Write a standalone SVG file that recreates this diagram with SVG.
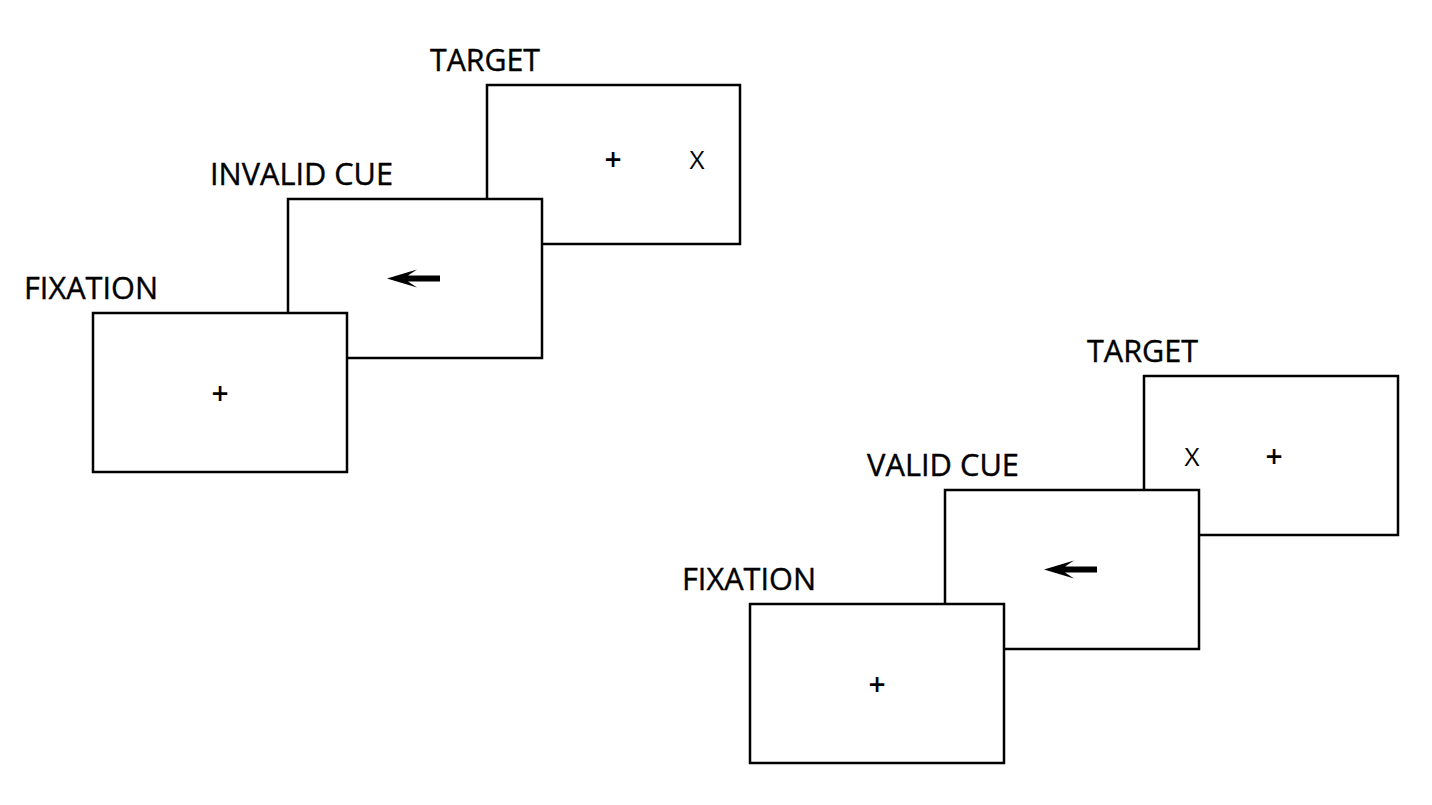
<svg xmlns="http://www.w3.org/2000/svg" width="1432" height="805" viewBox="0 0 1432 805">
<defs>
<style>
.box{fill:#fff;stroke:#000;stroke-width:2.5}
.lbl{font-family:"Open Sans","Liberation Sans",sans-serif;font-size:31px;fill:#000;stroke:#000;stroke-width:0.4}
.sym{font-family:"Open Sans","Liberation Sans",sans-serif;font-size:26px;fill:#000;text-anchor:middle}
.plus{font-weight:600;font-size:30px}
</style>
<path id="arrow" d="M0,0 L30,-9 L21,-3 L53,-3 L53,3 L21,3 L30,9 Z" fill="#000"/>
</defs>
<rect width="1432" height="805" fill="#fff"/>
<g id="invalid-trial">
<g id="target-invalid">
<rect class="box" x="487" y="85" width="253" height="159"/>
<text class="lbl" x="430" y="71" textLength="110" lengthAdjust="spacingAndGlyphs">TARGET</text>
<text class="sym plus" x="613" y="170">+</text>
<text class="sym" x="697" y="169">X</text>
</g>
<g id="cue-invalid">
<rect class="box" x="288" y="199" width="254" height="159"/>
<text class="lbl" x="210" y="185" textLength="183" lengthAdjust="spacingAndGlyphs">INVALID CUE</text>
<use href="#arrow" x="387" y="278.5"/>
</g>
<g id="fixation-invalid">
<rect class="box" x="93" y="313" width="254" height="159"/>
<text class="lbl" x="24" y="299" textLength="134" lengthAdjust="spacingAndGlyphs">FIXATION</text>
<text class="sym plus" x="220" y="404">+</text>
</g>
</g>
<g id="valid-trial">
<g id="target-valid">
<rect class="box" x="1144" y="376" width="254" height="159"/>
<text class="lbl" x="1087" y="362" textLength="111" lengthAdjust="spacingAndGlyphs">TARGET</text>
<text class="sym" x="1192" y="466">X</text>
<text class="sym plus" x="1274" y="467">+</text>
</g>
<g id="cue-valid">
<rect class="box" x="945" y="490" width="254" height="159"/>
<text class="lbl" x="867" y="476" textLength="152" lengthAdjust="spacingAndGlyphs">VALID CUE</text>
<use href="#arrow" x="1044" y="569.5"/>
</g>
<g id="fixation-valid">
<rect class="box" x="750" y="604" width="254" height="159"/>
<text class="lbl" x="682" y="590" textLength="134" lengthAdjust="spacingAndGlyphs">FIXATION</text>
<text class="sym plus" x="877" y="695">+</text>
</g>
</g>
<g id="connectors"/>
</svg>
